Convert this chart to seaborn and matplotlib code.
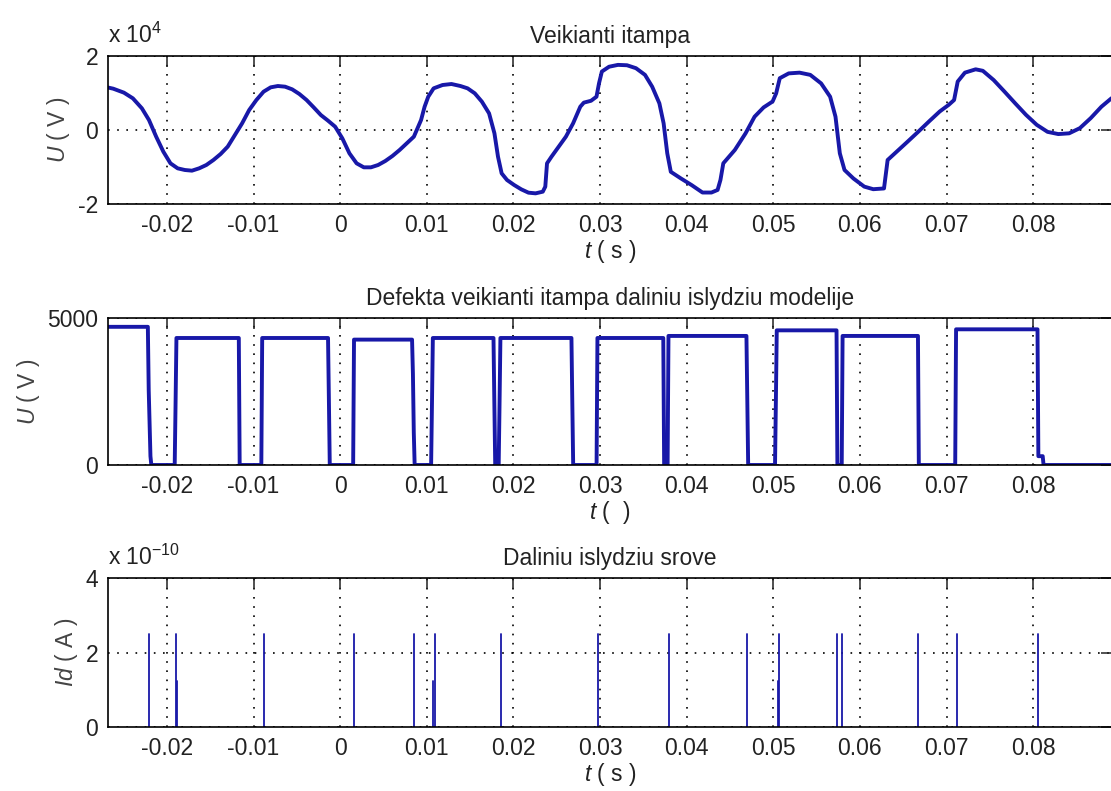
import seaborn as sns
import matplotlib.pyplot as plt
import pandas as pd
import numpy as np

# --- data ---
t_u = [-0.02690, -0.02620, -0.02496, -0.02393, -0.02289, -0.02207, -0.02124, -0.02041,
       -0.01959, -0.01876, -0.01793, -0.01711, -0.01628, -0.01545, -0.01463, -0.01380,
       -0.01298, -0.01215, -0.01132, -0.01050, -0.00967, -0.00884, -0.00802, -0.00719,
       -0.00636, -0.00554, -0.00471, -0.00388, -0.00306, -0.00223, -0.00140, -0.00058,
       0.00025, 0.00107, 0.00190, 0.00273, 0.00355, 0.00438, 0.00521, 0.00603,
       0.00686, 0.00769, 0.00851, 0.00934, 0.00975, 0.01017, 0.01079, 0.01182,
       0.01285, 0.01388, 0.01471, 0.01554, 0.01636, 0.01719, 0.01781, 0.01822,
       0.01864, 0.01926, 0.02008, 0.02091, 0.02174, 0.02256, 0.02339, 0.02368,
       0.02388, 0.02440, 0.02523, 0.02606, 0.02689, 0.02772, 0.02813, 0.02896,
       0.02959, 0.02988, 0.03021, 0.03104, 0.03207, 0.03311, 0.03415, 0.03519,
       0.03602, 0.03685, 0.03734, 0.03776, 0.03817, 0.03934, 0.04058, 0.04183,
       0.04286, 0.04357, 0.04390, 0.04423, 0.04556, 0.04680, 0.04784, 0.04888,
       0.04992, 0.05033, 0.05075, 0.05178, 0.05303, 0.05427, 0.05552, 0.05656,
       0.05718, 0.05768, 0.05822, 0.05925, 0.06050, 0.06154, 0.06278, 0.06320,
       0.06423, 0.06548, 0.06672, 0.06797, 0.06921, 0.07025, 0.07087, 0.07129,
       0.07212, 0.07336, 0.07419, 0.07544, 0.07668, 0.07793, 0.07917, 0.08041,
       0.08166, 0.08290, 0.08415, 0.08539, 0.08664, 0.08788, 0.08905]
u_volts = [11530, 11170, 10090, 8560, 5860, 2700, -1800, -5860,
           -9010, -10360, -10810, -10990, -10360, -9460, -8110, -6490,
           -4500, -1350, 1800, 5410, 8110, 10360, 11530, 11890,
           11710, 10990, 9730, 8110, 6130, 4050, 2520, 900,
           -2250, -6310, -9010, -10090, -10090, -9460, -8380, -7030,
           -5410, -3600, -1800, 2700, 6310, 9010, 11260, 12160,
           12430, 11890, 11260, 9910, 7660, 4500, -900, -7210,
           -11710, -13510, -14860, -16040, -16940, -17120, -16670, -15320,
           -9010, -7200, -4500, -1800, 1800, 6300, 7400, 7900,
           9000, 12600, 15800, 17100, 17600, 17500, 16700, 14900,
           11700, 7200, 1800, -6300, -11300, -13100, -14900, -16900,
           -16900, -16200, -13500, -9000, -5400, -900, 3600, 6100,
           7700, 9900, 14000, 15300, 15500, 14900, 12600, 9000,
           3600, -6300, -10800, -13100, -15300, -16000, -15800, -8100,
           -5900, -3200, -500, 2300, 5000, 6800, 8100, 13100,
           15500, 16400, 16000, 13500, 10400, 7200, 4100, 1400,
           -500, -1100, -900, 500, 3200, 6300, 8600]

t_def = [-0.0269, -0.0222, -0.0221, -0.0219, -0.0218, -0.0191, -0.0190, -0.0189,
         -0.0117, -0.0116, -0.0091, -0.0090, -0.0014, -0.0013, -0.0012, 0.0015, 0.0016,
         0.0083, 0.0084, 0.0085, 0.0086, 0.0105, 0.0106, 0.0107, 0.0177, 0.0178, 0.0179,
         0.0183, 0.0184, 0.0185, 0.0267, 0.0268, 0.0269, 0.0296, 0.0297, 0.0373, 0.0374,
         0.0378, 0.0379, 0.0469, 0.0470, 0.0471, 0.0502, 0.0503, 0.0504, 0.0573, 0.0574,
         0.0579, 0.0580, 0.0667, 0.0668, 0.0710, 0.0711, 0.0805, 0.0806, 0.0811, 0.0812,
         0.0891]
u_def = [4700, 4700, 2550, 300, 0, 0, 2100, 4320,
         4320, 0, 0, 4320, 4320, 2200, 0, 0, 4265,
         4265, 3100, 1100, 0, 0, 2100, 4320, 4320, 2100, 0,
         0, 2100, 4320, 4320, 2100, 0, 0, 4320, 4320, 0,
         0, 4390, 4390, 2200, 0, 0, 2200, 4580, 4580, 0,
         0, 4390, 4390, 0, 0, 4615, 4615, 300, 300, 0,
         0]

t_spk = [-0.0221, -0.0189, -0.0188, -0.0088, 0.0016, 0.0085, 0.0107, 0.0109, 0.0186,
         0.0298, 0.0380, 0.0470, 0.0505, 0.0507, 0.0573, 0.0579, 0.0667, 0.0712, 0.0806]
i_spk = [2.5e-10, 2.5e-10, 1.23e-10, 2.5e-10, 2.5e-10, 2.5e-10, 1.23e-10, 2.5e-10, 2.5e-10,
         2.5e-10, 2.5e-10, 2.5e-10, 1.23e-10, 2.5e-10, 2.5e-10, 2.5e-10, 2.5e-10, 2.5e-10,
         2.5e-10]

x_ticks = [-0.02, -0.01, 0, 0.01, 0.02, 0.03, 0.04, 0.05, 0.06, 0.07, 0.08]
x_labels = ['-0.02', '-0.01', '0', '0.01', '0.02', '0.03', '0.04', '0.05', '0.06', '0.07', '0.08']

sns.set_style('white')
plt.rcParams['font.family'] = ['Liberation Sans', 'DejaVu Sans']
plt.rcParams['mathtext.fontset'] = 'custom'
plt.rcParams['mathtext.rm'] = 'Liberation Sans'
plt.rcParams['mathtext.it'] = 'Liberation Sans:italic'
plt.rcParams['font.size'] = 16

blue = '#1818a8'
fs = 16.5

fig = plt.figure(figsize=(11.11, 7.91), dpi=100)
L, W = 108 / 1111, 1004 / 1111
ax1 = fig.add_axes([L, 1 - 204 / 791, W, 148 / 791])
ax2 = fig.add_axes([L, 1 - 465 / 791, W, 147 / 791])
ax3 = fig.add_axes([L, 1 - 727 / 791, W, 149 / 791])

sns.lineplot(x=t_u, y=u_volts, ax=ax1, color=blue, lw=2.8, sort=False, estimator=None)
sns.lineplot(x=t_def, y=u_def, ax=ax2, color=blue, lw=2.8, sort=False, estimator=None)

spikes = pd.DataFrame({
    'spike': np.repeat(np.arange(len(t_spk)), 2),
    't': np.repeat(t_spk, 2),
    'I': np.ravel([[0, h] for h in i_spk]),
})
sns.lineplot(data=spikes, x='t', y='I', units='spike', estimator=None, ax=ax3,
             color=blue, lw=1.3, sort=False)


def style(ax, yticks, ylabels, ylim, title, xlabel, ylabel, offset=None):
    ax.set_xlim(-0.0268, 0.0891)
    ax.set_ylim(*ylim)
    ax.set_xticks(x_ticks, x_labels)
    ax.set_yticks(yticks, ylabels)
    ax.grid(True, color='black', linestyle=(0, (1, 4.5)), linewidth=1.2)
    ax.tick_params(direction='in', top=True, right=True, length=8, width=1.1,
                   labelsize=fs, pad=7, colors='#222222')
    for s in ax.spines.values():
        s.set_color('black')
        s.set_linewidth(1.2)
    ax.set_title(title, fontsize=fs, pad=9, color='#222222')
    ax.set_xlabel(xlabel, fontsize=fs, labelpad=1, color='#222222')
    ax.set_ylabel(ylabel, fontsize=fs, labelpad=4, color='#444444')
    if offset:
        ax.annotate(offset, xy=(0, 1), xycoords='axes fraction', xytext=(0, 9.4),
                    textcoords='offset points', va='baseline', ha='left',
                    fontsize=fs, color='#222222')


style(ax1, [-2e4, 0, 2e4], ['-2', '0', '2'], (-2e4, 2e4), 'Veikianti itampa',
      '$t$ ( s )', '$U$ ( V )', 'x 10$^{4}$')
style(ax2, [0, 5000], ['0', '5000'], (0, 5000),
      'Defekta veikianti itampa daliniu islydziu modelije', '$t$ (  )', '$U$ ( V )')
style(ax3, [0, 2e-10, 4e-10], ['0', '2', '4'], (0, 4e-10), 'Daliniu islydziu srove',
      '$t$ ( s )', '$Id$ ( A )', 'x 10$^{-10}$')

plt.savefig('out.png', dpi=100)
